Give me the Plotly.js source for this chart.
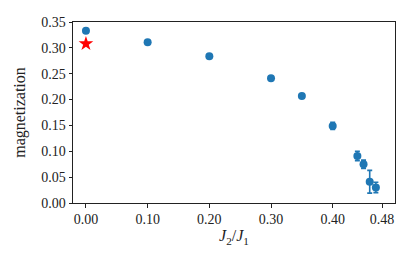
<!DOCTYPE html>
<html><head><meta charset="utf-8">
<script src="https://cdn.plot.ly/plotly-3.0.1.min.js"></script>
<style>html,body{margin:0;padding:0;background:#fff}#chart{width:415px;height:264px}</style>
</head><body><div id="chart"></div>
<script>
// data
const j2j1 = [0.00, 0.10, 0.20, 0.30, 0.35, 0.40, 0.44, 0.45, 0.46, 0.47];
const magnetization = [0.333, 0.311, 0.284, 0.241, 0.207, 0.149, 0.091, 0.075, 0.041, 0.030];
const magError = [0.002, 0.002, 0.002, 0.002, 0.002, 0.007, 0.009, 0.008, 0.022, 0.010];
const starX = [0.00];
const starY = [0.308];
const xTicks = [0.00, 0.10, 0.20, 0.30, 0.40, 0.48];
const xTickLabels = ['0.00', '0.10', '0.20', '0.30', '0.40', '0.48'];
const yTicks = [0.00, 0.05, 0.10, 0.15, 0.20, 0.25, 0.30, 0.35];

const tickFont = {family: 'Liberation Serif, DejaVu Serif, serif', size: 14, color: '#222'};
const titleFont = {family: 'Liberation Serif, DejaVu Serif, serif', size: 16, color: '#222'};
const traces = [
  {x: j2j1, y: magnetization, type: 'scatter', mode: 'markers',
   marker: {color: '#1f77b4', size: 8},
   error_y: {type: 'data', array: magError, visible: true, color: '#1f77b4', thickness: 1.6, width: 2.5},
   showlegend: false, hoverinfo: 'none'},
  {x: starX, y: starY, type: 'scatter', mode: 'markers',
   marker: {color: 'red', size: 11, symbol: 'star'},
   showlegend: false, hoverinfo: 'none'}
];
const axisCommon = {showgrid: false, zeroline: false, showline: true, linecolor: '#222', linewidth: 1,
  mirror: true, ticks: 'outside', ticklen: 3.5, tickwidth: 1, tickcolor: '#222', tickfont: tickFont};
const layout = {
  width: 415, height: 264,
  margin: {l: 73, r: 20, t: 22, b: 61},
  paper_bgcolor: '#fff', plot_bgcolor: '#fff',
  font: tickFont,
  xaxis: Object.assign({}, axisCommon, {range: [-0.021, 0.501], tickvals: xTicks, ticktext: xTickLabels,
    title: {text: '<i>J</i><sub>2</sub>/<i>J</i><sub>1</sub>', font: titleFont, standoff: 3}}),
  yaxis: Object.assign({}, axisCommon, {range: [0, 0.35], tickvals: yTicks, tickformat: '.2f',
    title: {text: 'magnetization', font: titleFont, standoff: 11}})
};
Plotly.newPlot('chart', traces, layout, {displayModeBar: false, staticPlot: true});
</script></body></html>
